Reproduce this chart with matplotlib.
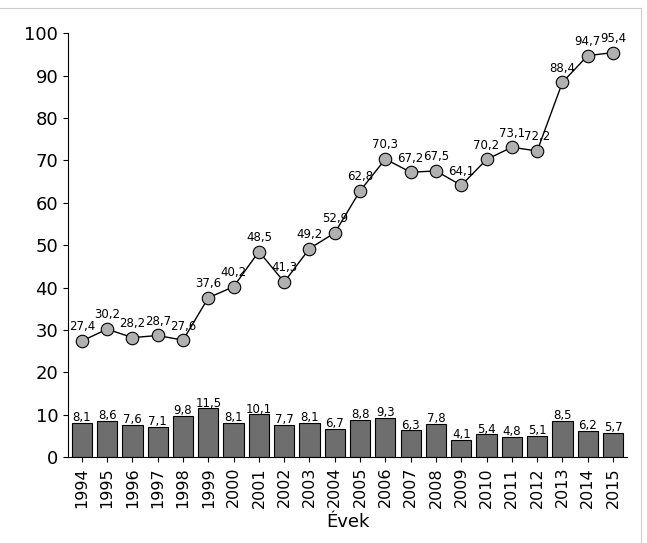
import matplotlib
matplotlib.use("Agg")
import matplotlib.pyplot as plt
from matplotlib.lines import Line2D

years = [str(y) for y in range(1994, 2016)]
line_vals = [27.4,30.2,28.2,28.7,27.6,37.6,40.2,48.5,41.3,49.2,52.9,62.8,70.3,67.2,67.5,64.1,70.2,73.1,72.2,88.4,94.7,95.4]
bar_vals = [8.1,8.6,7.6,7.1,9.8,11.5,8.1,10.1,7.7,8.1,6.7,8.8,9.3,6.3,7.8,4.1,5.4,4.8,5.1,8.5,6.2,5.7]

def fmt(v):
    return f"{v:.1f}".replace(".", ",")

fig = plt.figure(figsize=(6.47, 5.43), dpi=100)
ax = fig.add_axes([0.105, 0.158, 0.864, 0.781])
x = list(range(len(years)))
ax.bar(x, bar_vals, width=0.8, color="#6e6e6e", edgecolor="black", linewidth=0.8)
ax.plot(x, line_vals, color="black", linewidth=1, marker="o", markersize=9,
        markerfacecolor="#b0b0b0", markeredgecolor="black", markeredgewidth=0.8)
for xi, v in zip(x, bar_vals):
    ax.text(xi, v - 0.3, fmt(v), ha="center", va="bottom", fontsize=8.5)
for xi, v in zip(x, line_vals):
    ax.text(xi, v + 1.8, fmt(v), ha="center", va="bottom", fontsize=8.5)
ax.set_xlim(-0.55, len(years) - 0.45)
ax.set_ylim(0, 100)
ax.set_yticks(range(0, 101, 10))
ax.set_xticks(x)
ax.set_xticklabels(years, rotation=90, fontsize=11.5)
ax.tick_params(axis="y", labelsize=13)
ax.spines["top"].set_visible(False)
ax.spines["right"].set_visible(False)
ax.set_xlabel("Évek", fontsize=13)
fig.add_artist(Line2D([0, 0.99], [0.985, 0.985], color="#cccccc", lw=0.8, transform=fig.transFigure))
fig.add_artist(Line2D([0.99, 0.99], [0, 0.985], color="#cccccc", lw=0.8, transform=fig.transFigure))
fig.savefig("out.png", dpi=100)
